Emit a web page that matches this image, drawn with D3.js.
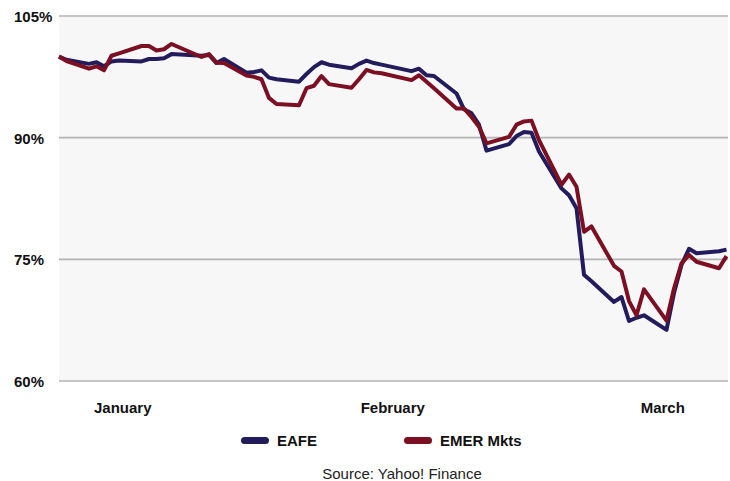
<!DOCTYPE html>
<html>
<head>
<meta charset="utf-8">
<script src="https://cdn.jsdelivr.net/npm/d3@7"></script>
<style>
  body { margin: 0; background: #fff; }
  svg { display: block; }
  .ylab { font-family: "Liberation Sans", Arial, sans-serif; font-weight: bold; font-size: 15px; fill: #111; }
  .xlab, .legtext { font-family: "Liberation Sans Narrow", "Arial Narrow", "Liberation Sans", sans-serif; font-weight: bold; font-size: 15px; fill: #111; }
  .source { font-family: "Liberation Sans Narrow", "Arial Narrow", "Liberation Sans", sans-serif; font-size: 15px; fill: #222; }
</style>
</head>
<body>
<svg id="chart" width="730" height="481"></svg>
<script>
// trading days, Jan 2 - Mar 31
let dates = ['2020-01-02','2020-01-03','2020-01-06','2020-01-07','2020-01-08','2020-01-09','2020-01-10',
    '2020-01-13','2020-01-14','2020-01-15','2020-01-16','2020-01-17','2020-01-21','2020-01-22','2020-01-23',
    '2020-01-24','2020-01-27','2020-01-28','2020-01-29','2020-01-30','2020-01-31',
    '2020-02-03','2020-02-04','2020-02-05','2020-02-06','2020-02-07','2020-02-10','2020-02-11','2020-02-12',
    '2020-02-13','2020-02-14','2020-02-18','2020-02-19','2020-02-20','2020-02-21','2020-02-24','2020-02-25',
    '2020-02-26','2020-02-27','2020-02-28',
    '2020-03-02','2020-03-03','2020-03-04','2020-03-05','2020-03-06','2020-03-09','2020-03-10','2020-03-11',
    '2020-03-12','2020-03-13','2020-03-16','2020-03-17','2020-03-18','2020-03-19','2020-03-20','2020-03-23',
    '2020-03-24','2020-03-25','2020-03-26','2020-03-27','2020-03-30','2020-03-31']

let eafe = [100, 99.6, 99.1, 99.3, 98.8, 99.4, 99.5,
    99.4, 99.7, 99.7, 99.8, 100.3, 100.1, 100.2, 99.2,
    99.7, 98.0, 98.1, 98.3, 97.4, 97.2,
    96.9, 97.85, 98.7, 99.3, 99.0, 98.55, 99.1, 99.5,
    99.2, 99.0, 98.2, 98.5, 97.7, 97.6, 95.45, 93.5,
    93.0, 91.6, 88.4,
    89.2, 90.2, 90.7, 90.6, 88.3, 83.75, 82.9, 81.3,
    73.1, 72.3, 69.75, 70.35, 67.4, 67.8, 68.1, 66.3,
    70.85, 74.3, 76.3, 75.75, 76.0, 76.2]

let emer = [100, 99.45, 98.5, 98.8, 98.3, 100.1, 100.4,
    101.3, 101.3, 100.75, 100.9, 101.55, 99.95, 100.3, 99.25,
    99.2, 97.65, 97.5, 97.2, 94.9, 94.15,
    94.0, 96.1, 96.4, 97.6, 96.6, 96.15, 97.2, 98.35,
    98.05, 97.95, 97.1, 97.7, 96.9, 96.1, 93.6, 93.6,
    92.55, 91.35, 89.3,
    90.1, 91.6, 92.0, 92.1, 89.7, 84.2, 85.45, 83.95,
    78.4, 79.05, 74.2, 73.5, 69.85, 68.1, 71.3, 67.45,
    71.4, 74.5, 75.55, 74.7, 73.9, 75.4]

let yTicks = [60, 75, 90, 105]
let monthLabels = ['January', 'February', 'March']
let monthLabelDates = ['2020-01-10T12:00', '2020-02-15T12:00', '2020-03-22T12:00']
let seriesNames = ['EAFE', 'EMER Mkts']
let seriesColors = ['#221c5c', '#7c0f22']

let parseDay = d3.timeParse('%Y-%m-%d')
let parseTime = d3.timeParse('%Y-%m-%dT%H:%M')
let days = dates.map(parseDay)

let svg = d3.select('#chart')

let x = d3.scaleTime()
    .domain([days[0], days[days.length - 1]])
    .range([59, 726.5])

let y = d3.scaleLinear()
    .domain([60, 105])
    .range([381, 16])

// plot background
svg.append('rect')
    .attr('x', 59)
    .attr('y', y(105))
    .attr('width', 669)
    .attr('height', y(60) - y(105))
    .style('fill', '#f7f7f7')

// gridlines + y labels
svg.selectAll('.grid')
    .data(yTicks)
    .enter().append('line')
    .attr('class', 'grid')
    .attr('x1', 59)
    .attr('x2', 728)
    .attr('y1', d => y(d))
    .attr('y2', d => y(d))
    .attr('stroke', '#b4b4b4')
    .attr('stroke-width', 1.6)

svg.selectAll('.ylab')
    .data(yTicks)
    .enter().append('text')
    .attr('class', 'ylab')
    .attr('x', 14)
    .attr('y', d => y(d) + 6)
    .text(d => d + '%')

// month labels
svg.selectAll('.xlab')
    .data(monthLabels)
    .enter().append('text')
    .attr('class', 'xlab')
    .attr('x', (d, i) => x(parseTime(monthLabelDates[i])))
    .attr('y', 413)
    .attr('text-anchor', 'middle')
    .text(d => d)

// lines
let line = d3.line()
    .x((d, i) => x(days[i]))
    .y(d => y(d))

;[eafe, emer].forEach((series, i) => {
    svg.append('path')
        .datum(series)
        .attr('d', line)
        .attr('fill', 'none')
        .attr('stroke', seriesColors[i])
        .attr('stroke-width', 4)
        .attr('stroke-linejoin', 'round')
})

// legend
let legendX = [241, 404]
seriesNames.forEach((name, i) => {
    svg.append('rect')
        .attr('x', legendX[i])
        .attr('y', 437)
        .attr('width', 28)
        .attr('height', 7)
        .attr('rx', 3.5)
        .style('fill', seriesColors[i])
    svg.append('text')
        .attr('class', 'legtext')
        .attr('x', legendX[i] + 36)
        .attr('y', 446)
        .text(name)
})

svg.append('text')
    .attr('class', 'source')
    .attr('x', 402)
    .attr('y', 479)
    .attr('text-anchor', 'middle')
    .text('Source: Yahoo! Finance')
</script>
</body>
</html>
